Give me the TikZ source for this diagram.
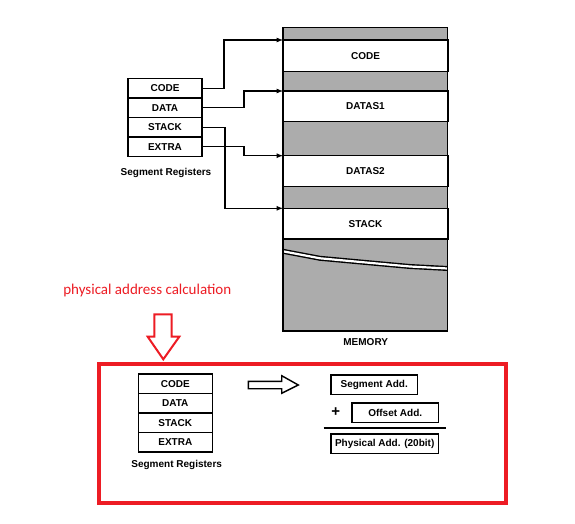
\documentclass[tikz,border=0pt]{standalone}
\usepackage{fontspec}
\setmainfont{Liberation Sans}
\newfontfamily\calib{Carlito}
\usetikzlibrary{positioning,arrows}
\definecolor{paintred}{RGB}{237,28,36}
\definecolor{stipple}{RGB}{172,172,172}
\tikzset{
  reg/.style={draw, line width=1.3pt, minimum width=74pt, minimum height=19.5pt,
    inner sep=0pt, outer sep=0pt, font=\bfseries\fontsize{10}{12}\selectfont},
  seg/.style={draw, fill=white, line width=1.3pt, minimum width=165pt, anchor=north west,
    inner sep=0pt, outer sep=0pt, font=\bfseries\fontsize{10}{12}\selectfont},
  addbox/.style={draw, line width=1.4pt, minimum height=19.3pt, inner sep=0pt,
    font=\bfseries\fontsize{10}{12}\selectfont},
  lbl/.style={font=\bfseries\fontsize{10}{12}\selectfont}
}
\begin{document}
\begin{tikzpicture}[x=1pt,y=-1pt]
  \fill[white] (0,0) rectangle (575,524);
  \useasboundingbox (0,0) rectangle (575,524);

  % memory column
  \fill[stipple] (283,27.3) rectangle (447.7,331);
  \node[seg, minimum height=31.7pt] (memCode) at (283,40) {CODE};
  \node[seg, minimum height=30.7pt] (memDataA) at (283,91) {DATAS1};
  \node[seg, minimum height=31pt] (memDataB) at (283,155.7) {DATAS2};
  \node[seg, minimum height=30.7pt] (memStack) at (283,208.3) {STACK};
  \draw[double=white, double distance=2.2pt, line width=1.4pt]
     (283,251.3) -- (320,258.3) -- (410,266.5) -- (447.7,268.5);
  \draw[line width=1.5pt] (283,27.3) rectangle (447.7,331);
  \node[lbl] (memory) at (365.7,341.7) {MEMORY};

  % segment registers
  \node[reg] (rCode) at (165,88.3) {CODE};
  \node[reg, below=0pt of rCode] (rData) {DATA};
  \node[reg, below=0pt of rData] (rStack) {STACK};
  \node[reg, below=0pt of rStack] (rExtra) {EXTRA};
  \node[lbl] (rTitle) at (166,172.7) {Segment Registers};

  \draw[-latex, line width=1.2pt] (rCode.east) -- ++(22,0) |- (memCode.north west);
  \draw[-latex, line width=1.2pt] (rData.east) -- ++(42,0) |- (memDataA.north west);
  \draw[-latex, line width=1.2pt] (rStack.east) -- ++(23,0) |- (memStack.north west);
  \draw[-latex, line width=1.2pt] (rExtra.east) -- ++(42,0) |- (memDataB.north west);

  % calculation
  \node[text=paintred, font=\calib\fontsize{15}{17}\selectfont] (calcText) at (147.3,290.7)
     {physical address calculation};
  \draw[paintred, line width=2pt] (154.3,314.3) -- (171.7,314.3) -- (171.7,336.7)
     -- (179.3,336.7) -- (163.3,359.3) -- (147.7,336.7) -- (154.3,336.7) -- cycle;
  \draw[paintred, line width=4pt] (99,364) rectangle (506,503);

  \node[reg] (lCode) at (175.3,383.7) {CODE};
  \node[reg, below=0pt of lCode] (lData) {DATA};
  \node[reg, below=0pt of lData] (lStack) {STACK};
  \node[reg, below=0pt of lStack] (lExtra) {EXTRA};
  \node[lbl] (lTitle) at (176.7,465) {Segment Registers};

  \draw[line width=1.4pt] (248.3,381.3) -- (281.7,381.3) -- (281.7,375.7) -- (298.3,385)
     -- (281.7,393.3) -- (281.7,388.7) -- (248.3,388.7) -- cycle;

  \node[addbox, minimum width=86.3pt] (segAdd) at (374.2,384.7) {Segment Add.};
  \node[addbox, minimum width=86.3pt] (offAdd) at (395.2,412.8) {Offset Add.};
  \node[font=\bfseries\fontsize{15}{16}\selectfont, inner sep=0pt] (plus) at (335.7,412.3) {+};
  \draw[line width=2pt] (323.7,428.3) -- (445.7,428.3);
  \node[addbox, minimum width=107.3pt] (physAdd) at (384.7,443.7) {Physical Add. (20bit)};
\end{tikzpicture}
\end{document}
